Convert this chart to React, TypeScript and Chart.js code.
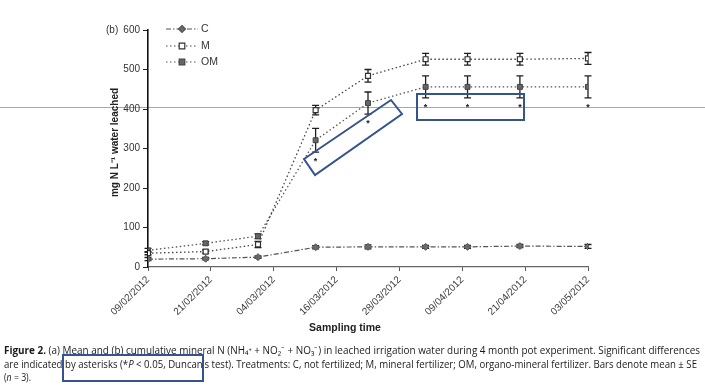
import React, { useEffect, useRef } from "react";
import { Chart, registerables } from "chart.js";
Chart.register(...registerables);

const tickLabels = ["09/02/2012", "21/02/2012", "04/03/2012", "16/03/2012", "28/03/2012", "09/04/2012", "21/04/2012", "03/05/2012"];
const sampleDays = [0, 11, 21, 32, 42, 53, 61, 71, 84];
const seriesNames = ["C", "M", "OM"];
const cValues = [20, 21, 25, 50, 51, 51, 51, 53, 52];
const cErrors = [4, 3, 3, 4, 5, 4, 4, 4, 5];
const mValues = [35, 39, 57, 397, 484, 526, 526, 526, 528];
const mErrors = [4, 4, 8, 12, 16, 15, 15, 15, 15];
const omValues = [42, 60, 78, 321, 415, 456, 456, 456, 456];
const omErrors = [5, 4, 6, 30, 28, 28, 28, 28, 28];
const omSignificant = [false, false, false, true, true, true, true, true, true];

const FONT = "Arial, 'Liberation Sans', Helvetica, sans-serif";
const toPoints = (vals: number[]) => vals.map((v, i) => ({ x: sampleDays[i], y: v }));

const errorBarPlugin = {
  id: "errorBars",
  beforeDatasetsDraw(chart: any) {
    const ctx = chart.ctx;
    const ys = chart.scales.y;
    chart.data.datasets.forEach((ds: any, di: number) => {
      const meta = chart.getDatasetMeta(di);
      meta.data.forEach((pt: any, i: number) => {
        const v = ds.data[i].y;
        const e = ds.errors[i];
        const yt = ys.getPixelForValue(v + e);
        const yb = ys.getPixelForValue(v - e);
        ctx.save();
        ctx.strokeStyle = "#1e1e1e";
        ctx.lineWidth = 1.3;
        ctx.beginPath();
        ctx.moveTo(pt.x, yt);
        ctx.lineTo(pt.x, yb);
        ctx.moveTo(pt.x - 3.5, yt);
        ctx.lineTo(pt.x + 3.5, yt);
        ctx.moveTo(pt.x - 3.5, yb);
        ctx.lineTo(pt.x + 3.5, yb);
        ctx.stroke();
        ctx.restore();
      });
    });
  },
  afterDatasetsDraw(chart: any) {
    const ctx = chart.ctx;
    const ys = chart.scales.y;
    const di = 2;
    const ds = chart.data.datasets[di];
    const meta = chart.getDatasetMeta(di);
    ctx.save();
    ctx.fillStyle = "#222";
    ctx.font = "bold 9px " + FONT;
    ctx.textAlign = "center";
    ctx.textBaseline = "top";
    meta.data.forEach((pt: any, i: number) => {
      if (!omSignificant[i]) return;
      const yb = ys.getPixelForValue(ds.data[i].y - ds.errors[i]);
      ctx.fillText("*", pt.x, yb + 5);
    });
    ctx.restore();
  },
};

function drawMarker(ctx: CanvasRenderingContext2D, style: string, x: number, y: number, r: number, fill: string, stroke: string) {
  ctx.save();
  ctx.fillStyle = fill;
  ctx.strokeStyle = stroke;
  ctx.lineWidth = 1.2;
  ctx.setLineDash([]);
  ctx.beginPath();
  if (style === "rectRot") {
    ctx.moveTo(x, y - r);
    ctx.lineTo(x + r, y);
    ctx.lineTo(x, y + r);
    ctx.lineTo(x - r, y);
    ctx.closePath();
  } else {
    ctx.rect(x - r * 0.8, y - r * 0.8, r * 1.6, r * 1.6);
  }
  ctx.fill();
  ctx.stroke();
  ctx.restore();
}

const decorPlugin = {
  id: "decor",
  afterDraw(chart: any) {
    const ctx = chart.ctx;
    const area = chart.chartArea;
    ctx.save();
    ctx.fillStyle = "#333";
    ctx.font = "10px " + FONT;
    ctx.textAlign = "left";
    ctx.textBaseline = "middle";
    ctx.fillText("(b)", 106, 30);
    const legendY = [29, 46, 62];
    chart.data.datasets.forEach((ds: any, i: number) => {
      const y = legendY[i];
      ctx.save();
      ctx.strokeStyle = ds.borderColor;
      ctx.lineWidth = 1.2;
      ctx.setLineDash(ds.borderDash);
      ctx.beginPath();
      ctx.moveTo(166, y);
      ctx.lineTo(198, y);
      ctx.stroke();
      ctx.restore();
      drawMarker(ctx, ds.pointStyle, 182, y, 3.5, ds.pointBackgroundColor, ds.pointBorderColor);
      ctx.fillStyle = "#333";
      ctx.font = "10.5px " + FONT;
      ctx.textAlign = "left";
      ctx.fillText(ds.label, 201, y + 0.5);
    });
    ctx.save();
    ctx.translate(115, (area.top + area.bottom) / 2 - 6);
    ctx.rotate(-Math.PI / 2);
    ctx.font = "bold 10px " + FONT;
    ctx.fillStyle = "#222";
    ctx.textAlign = "center";
    ctx.textBaseline = "middle";
    ctx.fillText("mg N L\u207B\u00B9 water leached", 0, 0);
    ctx.restore();
    ctx.font = "bold 10.5px " + FONT;
    ctx.fillStyle = "#222";
    ctx.textAlign = "center";
    ctx.textBaseline = "middle";
    ctx.fillText("Sampling time", 345, 328);
    ctx.restore();
  },
};

export default function App() {
  const canvasRef = useRef<HTMLCanvasElement | null>(null);

  useEffect(() => {
    if (!canvasRef.current) return;
    const chart = new Chart(canvasRef.current, {
      type: "line",
      data: {
        datasets: [
          {
            label: seriesNames[0],
            data: toPoints(cValues),
            errors: cErrors,
            borderColor: "#555",
            borderWidth: 1.2,
            borderDash: [5, 2, 1.5, 2],
            pointStyle: "rectRot",
            pointRadius: 3.5,
            pointBackgroundColor: "#6a6a6a",
            pointBorderColor: "#555",
            pointBorderWidth: 1,
            fill: false,
            tension: 0,
          } as any,
          {
            label: seriesNames[1],
            data: toPoints(mValues),
            errors: mErrors,
            borderColor: "#444",
            borderWidth: 1.3,
            borderDash: [1.5, 2.5],
            pointStyle: "rect",
            pointRadius: 3.5,
            pointBackgroundColor: "#ffffff",
            pointBorderColor: "#333",
            pointBorderWidth: 1.2,
            fill: false,
            tension: 0,
          } as any,
          {
            label: seriesNames[2],
            data: toPoints(omValues),
            errors: omErrors,
            borderColor: "#555",
            borderWidth: 1.3,
            borderDash: [1.5, 2.5],
            pointStyle: "rect",
            pointRadius: 3.5,
            pointBackgroundColor: "#666",
            pointBorderColor: "#444",
            pointBorderWidth: 1,
            fill: false,
            tension: 0,
          } as any,
        ],
      },
      options: {
        responsive: false,
        devicePixelRatio: 1,
        animation: false,
        layout: { padding: { left: 0, right: 117, top: 30, bottom: 0 } },
        plugins: { legend: { display: false }, tooltip: { enabled: false } },
        scales: {
          x: {
            type: "linear",
            min: 0,
            max: 84,
            afterFit: (s: any) => {
              s.height = 119;
            },
            ticks: {
              stepSize: 12,
              autoSkip: false,
              maxRotation: 45,
              minRotation: 45,
              padding: 3,
              color: "#3a3a3a",
              font: { family: FONT, size: 10 },
              callback: (v: any) => tickLabels[Math.round(Number(v) / 12)] ?? "",
            },
            grid: { drawOnChartArea: false, drawTicks: true, tickLength: 4, color: "#555" },
            border: { display: true, color: "#666", width: 1.2 },
          },
          y: {
            min: 0,
            max: 600,
            afterFit: (s: any) => {
              s.width = 148;
            },
            ticks: {
              stepSize: 100,
              padding: 3,
              color: "#333",
              font: { family: FONT, size: 10 },
            },
            grid: { drawOnChartArea: false, drawTicks: true, tickLength: 5, color: "#222" },
            border: { display: true, color: "#111", width: 1.6 },
          },
        },
      } as any,
      plugins: [errorBarPlugin, decorPlugin],
    });
    return () => chart.destroy();
  }, []);

  const blue = "#35548f";
  const captionFont = "'Open Sans', 'Liberation Sans', Arial, sans-serif";
  return (
    <div style={{ position: "absolute", left: 0, top: 0, width: 705, height: 386, background: "#fff", overflow: "hidden" }}>
      <svg width={705} height={386} style={{ position: "absolute", left: 0, top: 0, pointerEvents: "none" }}>
        <line x1={0} y1={107.5} x2={705} y2={107.5} stroke="#a8a8a8" strokeWidth={1} />
      </svg>
      <canvas ref={canvasRef} width={705} height={386} style={{ position: "absolute", left: 0, top: 0 }} />
      <svg width={705} height={386} style={{ position: "absolute", left: 0, top: 0, pointerEvents: "none" }}>
        <polygon points="304,159 391,100 402,114 315,175" fill="none" stroke={blue} strokeWidth={2} />
        <rect x={417} y={94} width={107} height={26} fill="none" stroke={blue} strokeWidth={2} />
        <text x={4} y={354} fontFamily={captionFont} fontSize={10.5} fill="#1a1a1a" textLength={696} lengthAdjust="spacingAndGlyphs">
          <tspan fontWeight="bold">Figure 2.</tspan> (a) Mean and (b) cumulative mineral N (NH₄⁺ + NO₂⁻ + NO₃⁻) in leached irrigation water during 4 month pot experiment. Significant differences
        </text>
        <text x={4} y={367.5} fontFamily={captionFont} fontSize={10.5} fill="#1a1a1a" textLength={693} lengthAdjust="spacingAndGlyphs">
          are indicated by asterisks (*<tspan fontStyle="italic">P</tspan> &lt; 0.05, Duncan’s test). Treatments: C, not fertilized; M, mineral fertilizer; OM, organo-mineral fertilizer. Bars denote mean ± SE
        </text>
        <text x={4} y={381} fontFamily={captionFont} fontSize={10.5} fill="#1a1a1a" textLength={27} lengthAdjust="spacingAndGlyphs">
          (<tspan fontStyle="italic">n</tspan> = 3).
        </text>
        <rect x={63} y={355} width={140} height={26} fill="none" stroke={blue} strokeWidth={2} />
      </svg>
    </div>
  );
}
